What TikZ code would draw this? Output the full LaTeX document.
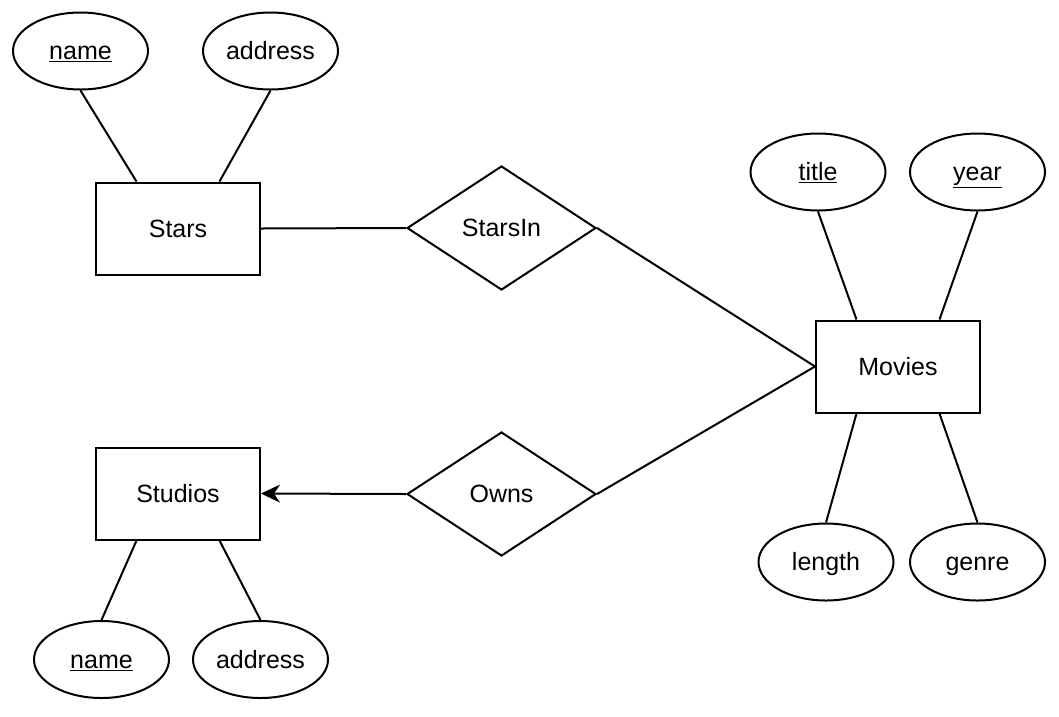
\documentclass[tikz,border=0pt]{standalone}
\usepackage{fontspec}
\setmainfont{Liberation Sans}
\usetikzlibrary{shapes.geometric,arrows.meta,calc}
\begin{document}
\begin{tikzpicture}[x=1pt,y=-1pt, line width=2pt,
  font=\fontsize{25}{30}\selectfont,
  every node/.style={text height=17.9pt, text depth=0pt},
  entity/.style={draw, rectangle, fill=white, minimum width=164pt, minimum height=92pt, inner sep=0pt},
  rel/.style={draw, diamond, fill=white, minimum width=189pt, minimum height=124pt, inner sep=0pt},
  attr/.style={draw, ellipse, fill=white, minimum width=135pt, minimum height=77pt, inner sep=0pt},
  conn/.style={line width=2pt},
  tip/.style={-{Stealth[length=19pt,width=18pt,inset=6pt]}}]
\fill[white] (0,0) rectangle (1059,716);
\useasboundingbox (0,0) rectangle (1059,716);

% entities
\node[entity] (stars) at (178,228.5) {Stars};
\node[entity] (studios) at (178,493.5) {Studios};
\node[entity] (movies) at (898,366.5) {Movies};

% relationships
\node[rel] (starsin) at (501.5,228) {StarsIn};
\node[rel] (owns) at (501.5,494) {Owns};

% attributes
\node[attr] (sname) at (80.5,51) {\underline{name}};
\node[attr] (saddr) at (270.5,51) {address};
\node[attr] (title) at (818,172) {\underline{title}};
\node[attr] (year) at (977.5,172) {\underline{year}};
\node[attr] (length) at (826,562) {length};
\node[attr] (genre) at (977.5,562) {genre};
\node[attr] (stname) at (101.5,659.5) {\underline{name}};
\node[attr] (staddr) at (260.5,659.5) {address};

% connectors
\draw[conn] (sname.south) -- ($(stars.north west)!0.25!(stars.north east)$);
\draw[conn] (saddr.south) -- ($(stars.north west)!0.75!(stars.north east)$);
\draw[conn] (stname.north) -- ($(studios.south west)!0.25!(studios.south east)$);
\draw[conn] (staddr.north) -- ($(studios.south west)!0.75!(studios.south east)$);
\draw[conn] (title.south) -- ($(movies.north west)!0.25!(movies.north east)$);
\draw[conn] (year.south) -- ($(movies.north west)!0.75!(movies.north east)$);
\draw[conn] (length.north) -- ($(movies.south west)!0.25!(movies.south east)$);
\draw[conn] (genre.north) -- ($(movies.south west)!0.75!(movies.south east)$);

\draw[conn] (stars.east) -- (starsin.west);
\draw[conn] (starsin.east) -- (movies.west);
\draw[conn] (owns.east) -- (movies.west);
\draw[conn,tip] (owns.west) -- (studios.east);
\end{tikzpicture}
\end{document}
